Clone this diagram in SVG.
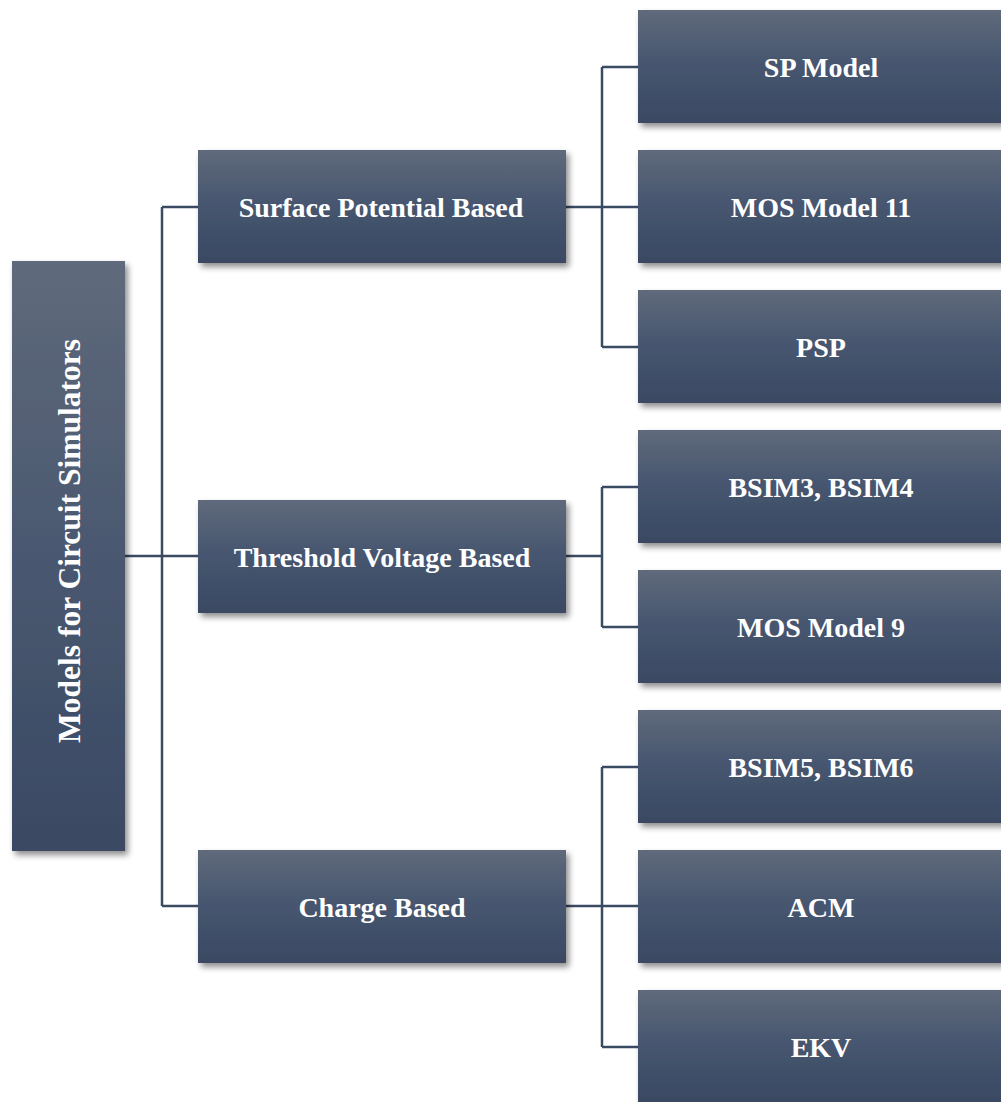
<svg xmlns="http://www.w3.org/2000/svg" width="1001" height="1102" viewBox="0 0 1001 1102">
<defs>
<linearGradient id="g" x1="0" y1="0" x2="0" y2="1">
<stop offset="0" stop-color="#5f6a7b"/>
<stop offset="0.5" stop-color="#46556f"/>
<stop offset="1" stop-color="#3a4963"/>
</linearGradient>
<linearGradient id="gr" x1="0" y1="0" x2="0" y2="1">
<stop offset="0" stop-color="#5f6a7b"/>
<stop offset="0.5" stop-color="#4a5870"/>
<stop offset="1" stop-color="#3a4963"/>
</linearGradient>
<filter id="sh" x="-10%" y="-10%" width="130%" height="130%">
<feGaussianBlur in="SourceAlpha" stdDeviation="3"/>
<feOffset dx="3" dy="4" result="b"/>
<feComponentTransfer><feFuncA type="linear" slope="0.45"/></feComponentTransfer>
<feMerge><feMergeNode/><feMergeNode in="SourceGraphic"/></feMerge>
</filter>
</defs>
<style>
.box{fill:url(#g);filter:url(#sh)}
.t{font-family:"Liberation Serif","Times New Roman",serif;font-weight:bold;font-size:28px;fill:#ffffff;text-anchor:middle;dominant-baseline:central}
.r{font-size:31.5px}
.c{fill:none;stroke:#3b4a63;stroke-width:2.5}
</style>
<rect width="1001" height="1102" fill="#ffffff"/>
<g id="connectors">
<path class="c" d="M125 556H162M162 207V906M162 207H198M162 556H198M162 906H198"/>
<path class="c" d="M566 207H602M602 67V347M602 67H638M602 207H638M602 347H638"/>
<path class="c" d="M566 556H602M602 487V627M602 487H638M602 627H638"/>
<path class="c" d="M566 906H602M602 767V1047M602 767H638M602 906H638M602 1047H638"/>
</g>
<g id="root">
<rect class="box" x="12" y="261" width="113" height="590" style="fill:url(#gr)"/>
<text class="t r" transform="translate(69 541) rotate(-90)">Models for Circuit Simulators</text>
</g>
<g id="surface">
<rect class="box" x="198" y="150" width="368" height="113"/>
<text class="t" x="381" y="207">Surface Potential Based</text>
</g>
<g id="threshold">
<rect class="box" x="198" y="500" width="368" height="113"/>
<text class="t" x="382" y="557">Threshold Voltage Based</text>
</g>
<g id="charge">
<rect class="box" x="198" y="850" width="368" height="113"/>
<text class="t" x="382" y="907">Charge Based</text>
</g>
<g id="sp">
<rect class="box" x="638" y="10" width="366" height="113"/>
<text class="t" x="821" y="67">SP Model</text>
</g>
<g id="mos11">
<rect class="box" x="638" y="150" width="366" height="113"/>
<text class="t" x="821" y="207">MOS Model 11</text>
</g>
<g id="psp">
<rect class="box" x="638" y="290" width="366" height="113"/>
<text class="t" x="821" y="347">PSP</text>
</g>
<g id="bsim34">
<rect class="box" x="638" y="430" width="366" height="113"/>
<text class="t" x="821" y="487">BSIM3, BSIM4</text>
</g>
<g id="mos9">
<rect class="box" x="638" y="570" width="366" height="113"/>
<text class="t" x="821" y="627">MOS Model 9</text>
</g>
<g id="bsim56">
<rect class="box" x="638" y="710" width="366" height="113"/>
<text class="t" x="821" y="767">BSIM5, BSIM6</text>
</g>
<g id="acm">
<rect class="box" x="638" y="850" width="366" height="113"/>
<text class="t" x="821" y="907">ACM</text>
</g>
<g id="ekv">
<rect class="box" x="638" y="990" width="366" height="113"/>
<text class="t" x="821" y="1047">EKV</text>
</g>
</svg>
